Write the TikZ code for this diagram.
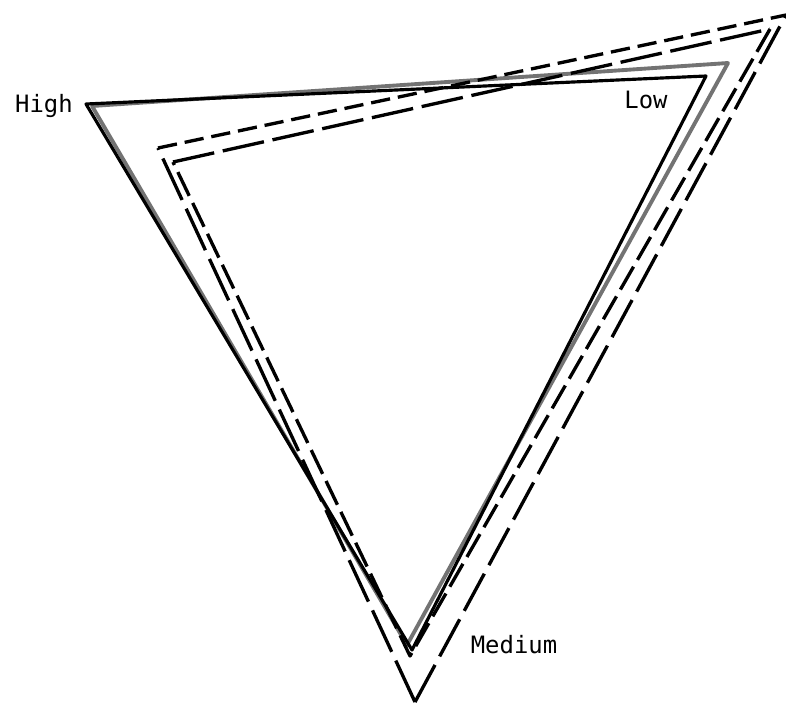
\documentclass[tikz,border=0pt]{standalone}
\usepackage{fontspec}
\setmonofont{DejaVu Sans Mono}
\usetikzlibrary{positioning}

\begin{document}
\begin{tikzpicture}[x=0.02cm, y=-0.02cm,
            lbl/.style={font=\ttfamily\fontsize{13.6}{16}\selectfont, inner sep=0pt},
            solidtri/.style={draw=black, line width=1.8pt, line join=round},
            graytri/.style={draw=black!55, line width=2.2pt, line join=round},
            outerdash/.style={draw=black, line width=1.9pt, line join=round},
            innerdash/.style={draw=black, line width=1.9pt, line join=round}]
            \useasboundingbox (0,0) rectangle (786,704);
            % solid triangles
            \coordinate (h1) at (86,104);
            \coordinate (l1) at (706,76);
            \coordinate (m1) at (412,650);
            \coordinate (h2) at (92,106);
            \coordinate (l2) at (728,63);
            \coordinate (m2) at (407,645);
            % dashed triangles
            \coordinate (a1) at (158,148);
            \coordinate (a2) at (786,15);
            \coordinate (a3) at (415,702);
            \coordinate (c1) at (173,162);
            \coordinate (c2) at (770,29);
            \coordinate (c3) at (410,656);
            \draw[graytri] (h2)--(l2)--(m2)--cycle;
            \draw[solidtri] (h1)--(l1)--(m1)--cycle;
            \draw[innerdash, dash pattern=on 24pt off 5pt] (c1)--(c2);
            \draw[innerdash, dash pattern=on 15pt off 4.5pt] (c2)--(c3)--(c1);
            \draw[outerdash, dash pattern=on 11pt off 4.5pt] (a1)--(a2);
            \draw[outerdash, dash pattern=on 24pt off 5.5pt] (a3)--(a2);
            \draw[outerdash, dash pattern=on 26pt off 5.5pt] (a3)--(a1);
            % labels
            \node[lbl] (high) at (44,106) {High};
            \node[lbl] (low) at (646,100) {Low};
            \node[lbl] (medium) at (514,645) {Medium};
        \end{tikzpicture}
\end{document}
